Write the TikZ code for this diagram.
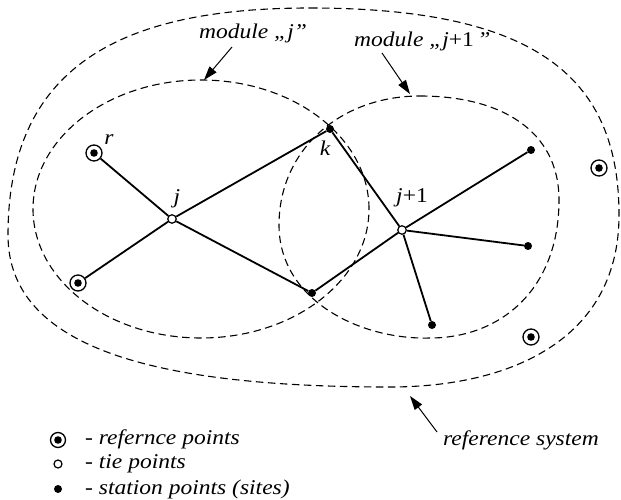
\documentclass[tikz,border=0pt]{standalone}
\usepackage{fontspec}
\setmainfont{Liberation Serif}[ItalicFont={Liberation Serif Italic}, FakeStretch=1.12]
\usetikzlibrary{arrows.meta}
\begin{document}
\begin{tikzpicture}[x=1pt,y=-1pt,
  dashline/.style={line width=1.1pt, dash pattern=on 7.5pt off 4.5pt},
  net/.style={line width=1.8pt},
  ptr/.style={line width=1pt, -{Triangle[length=14pt,width=9pt]}},
  refpt/.style={circle, draw, line width=1.3pt, minimum size=16pt, inner sep=0pt,
    path picture={\fill (path picture bounding box.center) circle (3.8pt);}},
  tiept/.style={circle, draw, fill=white, line width=1.2pt, minimum size=8.5pt, inner sep=0pt},
  stapt/.style={circle, fill=black, minimum size=8pt, inner sep=0pt},
  lbl/.style={font=\fontsize{21}{25}\selectfont\itshape, inner sep=0pt}
]
\useasboundingbox (0,0) rectangle (621,500);
% reference system
\draw[dashline] (310,8) .. controls (540,8) and (619,80) .. (619,215)
  .. controls (619,340) and (510,387) .. (390,387)
  .. controls (160,387) and (8,350) .. (8,235)
  .. controls (8,60) and (130,8) .. cycle;
% module j
\draw[dashline] (201,209) ellipse [x radius=168pt, y radius=129pt];
% module j+1
\draw[dashline] (420,96) .. controls (500,96) and (559,130) .. (559,200)
  .. controls (559,290) and (500,338) .. (430,338)
  .. controls (360,340) and (279,300) .. (279,225)
  .. controls (279,150) and (340,96) .. cycle;

% points
\node[refpt] (r) at (94,153) {};
\node[refpt] (ra) at (78,283) {};
\node[refpt] (rb) at (599,168) {};
\node[refpt] (rc) at (531,337) {};
\node[tiept] (j) at (172,219) {};
\node[tiept] (j1) at (402,230) {};
\node[stapt] (k) at (330,129) {};
\node[stapt] (sb) at (312,293) {};
\node[stapt] (s1) at (531,150) {};
\node[stapt] (s2) at (528,246) {};
\node[stapt] (s3) at (432,325) {};

\draw[net] (r) -- (j);
\draw[net] (ra) -- (j);
\draw[net] (j) -- (k);
\draw[net] (j) -- (sb);
\draw[net] (sb) -- (j1);
\draw[net] (k) -- (j1);
\draw[net] (j1) -- (s1);
\draw[net] (j1) -- (s2);
\draw[net] (j1) -- (s3);

% point labels
\node[lbl] (lr) at (109,140) {r};
\node[lbl] (lj) at (177,199) {j};
\node[lbl] (lk) at (325,148) {k};
\node[lbl] (lj1) at (412,198) {j{\upshape +1}};

% module labels
\node[lbl, anchor=base] (mj) at (253,39) {module „j”};
\node[lbl, anchor=base west] (mj1) at (354,47) {module „j{\upshape +1}\,”};
\node[lbl, anchor=base west] (rs) at (443,445) {reference system};
\coordinate (mjs) at (232,47);
\coordinate (mjt) at (204,80);
\coordinate (mj1s) at (382,53);
\coordinate (mj1t) at (410,94);
\coordinate (rss) at (437,432);
\coordinate (rst) at (410,396);
\draw[ptr] (mjs) -- (mjt);
\draw[ptr] (mj1s) -- (mj1t);
\draw[ptr] (rss) -- (rst);

% legend
\node[refpt, minimum size=15pt] (lg1) at (58,440) {};
\node[tiept, minimum size=8pt] (lg2) at (58,464) {};
\node[stapt, minimum size=8pt] (lg3) at (58,489) {};
\node[lbl, anchor=base west] (lt1) at (85,444) {- refernce points};
\node[lbl, anchor=base west] (lt2) at (85,468) {- tie points};
\node[lbl, anchor=base west] (lt3) at (85,494) {- station points (sites)};
\end{tikzpicture}
\end{document}
